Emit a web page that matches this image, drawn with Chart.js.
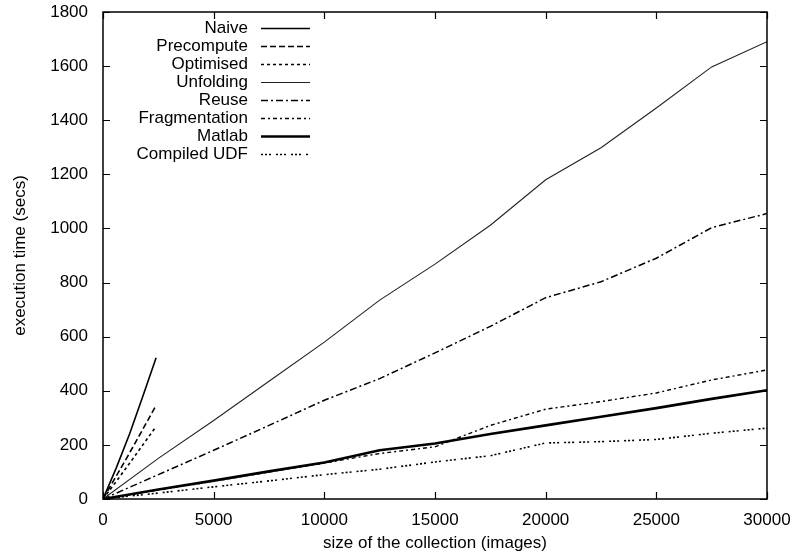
<!DOCTYPE html>
<html>
<head>
<meta charset="utf-8">
<script src="https://cdn.jsdelivr.net/npm/chart.js@4.4.0/dist/chart.umd.min.js"></script>
<style>
  body { margin: 0; background: #fff; }
  canvas { display: block; }
</style>
</head>
<body>
<canvas id="timeChart" width="796" height="554"></canvas>
<script>
// small collection runs (only up to ~2400 images)
const smallSizes = [0, 600, 1200, 1800, 2400];
const naive = [0, 115, 240, 380, 522];
const precompute = [0, 85, 170, 258, 346];
const optimised = [0, 65, 132, 200, 268];

// large collection runs
const largeSizes = [0, 2500, 5000, 7500, 10000, 12500, 15000, 17500, 20000, 22500, 25000, 27500, 30000];
const unfolding = [0, 150, 290, 435, 580, 735, 868, 1012, 1180, 1298, 1445, 1597, 1690];
const reuse = [0, 90, 180, 272, 365, 445, 540, 638, 744, 803, 890, 1003, 1055];
const fragmentation = [0, 33, 66, 100, 133, 168, 193, 272, 332, 360, 392, 440, 477];
const matlab = [0, 35, 68, 102, 135, 180, 205, 240, 272, 304, 336, 370, 402];
const compiledUdf = [0, 22, 45, 67, 90, 110, 137, 160, 207, 212, 220, 243, 262];

const xTicks = [0, 5000, 10000, 15000, 20000, 25000, 30000];
const yTicks = [0, 200, 400, 600, 800, 1000, 1200, 1400, 1600, 1800];

const FONT = '"Liberation Sans", Arial, Helvetica, sans-serif';

function pairs(xs, ys) {
  return ys.map((v, i) => ({ x: xs[i], y: v }));
}

function series(label, xs, ys, width, dash, color) {
  return {
    label: label,
    data: pairs(xs, ys),
    borderColor: color || '#000',
    borderWidth: width,
    borderDash: dash,
    pointRadius: 0,
    tension: 0,
    fill: false
  };
}

// box, inward ticks and the gnuplot style legend
const framePlugin = {
  id: 'frame',
  afterDraw(chart) {
    const ctx = chart.ctx;
    const { left, right, top, bottom } = chart.chartArea;
    const x = chart.scales.x;
    const y = chart.scales.y;
    ctx.save();
    ctx.strokeStyle = '#000';
    ctx.lineWidth = 1.5;
    ctx.setLineDash([]);
    ctx.strokeRect(left, top, right - left, bottom - top);

    ctx.lineWidth = 1.2;
    xTicks.forEach(v => {
      const px = Math.round(x.getPixelForValue(v)) + 0.5;
      ctx.beginPath();
      ctx.moveTo(px, bottom); ctx.lineTo(px, bottom - 7);
      ctx.moveTo(px, top); ctx.lineTo(px, top + 7);
      ctx.stroke();
    });
    yTicks.forEach(v => {
      const py = Math.round(y.getPixelForValue(v)) + 0.5;
      ctx.beginPath();
      ctx.moveTo(left, py); ctx.lineTo(left + 7, py);
      ctx.moveTo(right, py); ctx.lineTo(right - 7, py);
      ctx.stroke();
    });

    // legend
    ctx.font = '17px ' + FONT;
    ctx.fillStyle = '#000';
    ctx.textAlign = 'right';
    ctx.textBaseline = 'middle';
    chart.data.datasets.forEach((ds, i) => {
      const rowY = 28 + i * 18;
      ctx.fillText(ds.label, 248, rowY);
      ctx.strokeStyle = ds.borderColor;
      ctx.lineWidth = ds.borderWidth;
      ctx.setLineDash(ds.borderDash || []);
      ctx.beginPath();
      ctx.moveTo(261, rowY + 0.5);
      ctx.lineTo(310, rowY + 0.5);
      ctx.stroke();
    });
    ctx.restore();
  }
};

new Chart(document.getElementById('timeChart'), {
  type: 'line',
  data: {
    datasets: [
      series('Naive', smallSizes, naive, 1.6, []),
      series('Precompute', smallSizes, precompute, 1.6, [6, 3]),
      series('Optimised', smallSizes, optimised, 1.6, [3, 3]),
      series('Unfolding', largeSizes, unfolding, 1.1, [], '#222'),
      series('Reuse', largeSizes, reuse, 1.5, [7, 3, 2, 3]),
      series('Fragmentation', largeSizes, fragmentation, 1.4, [4, 3, 2, 3]),
      series('Matlab', largeSizes, matlab, 2.6, []),
      series('Compiled UDF', largeSizes, compiledUdf, 1.6, [2, 2, 2, 2, 2, 5])
    ]
  },
  options: {
    responsive: false,
    animation: false,
    layout: { padding: { top: 12, right: 29, left: 0, bottom: 0 } },
    plugins: {
      legend: { display: false },
      tooltip: { enabled: false }
    },
    scales: {
      x: {
        type: 'linear',
        min: 0,
        max: 30000,
        afterFit: s => {
          s.height = 55;
          s.paddingLeft = 0;
          s.paddingRight = 0;
        },
        afterBuildTicks: s => { s.ticks = xTicks.map(v => ({ value: v })); },
        grid: { display: false, drawTicks: false },
        border: { display: false },
        ticks: {
          color: '#000',
          font: { family: FONT, size: 17 },
          padding: 11,
          maxRotation: 0,
          autoSkip: false,
          callback: v => String(v)
        },
        title: {
          display: true,
          text: 'size of the collection (images)',
          color: '#000',
          font: { family: FONT, size: 17 },
          padding: { top: 0, bottom: 0 }
        }
      },
      y: {
        min: 0,
        max: 1800,
        afterFit: s => {
          s.width = 103;
          s.paddingTop = 0;
          s.paddingBottom = 0;
        },
        afterBuildTicks: s => { s.ticks = yTicks.map(v => ({ value: v })); },
        grid: { display: false, drawTicks: false },
        border: { display: false },
        ticks: {
          color: '#000',
          font: { family: FONT, size: 17 },
          padding: 15,
          callback: v => String(v)
        },
        title: {
          display: true,
          text: 'execution time (secs)',
          color: '#000',
          font: { family: FONT, size: 17 },
          padding: { top: 10, bottom: 0 }
        }
      }
    }
  },
  plugins: [framePlugin]
});
</script>
</body>
</html>
